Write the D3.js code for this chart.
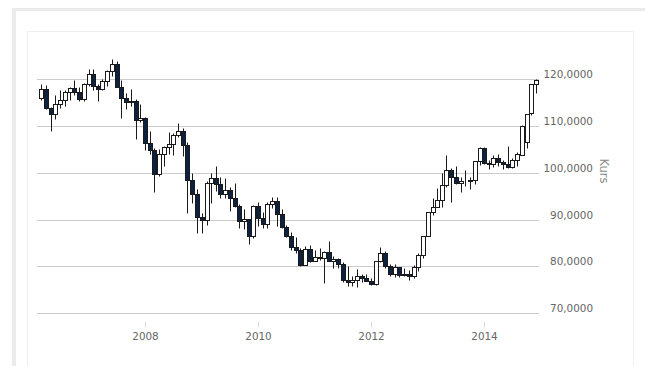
<!DOCTYPE html>
<html>
<head>
<meta charset="utf-8">
<script src="https://cdn.jsdelivr.net/npm/d3@7"></script>
<style>
  html, body { margin: 0; padding: 0; background: #fff; }
  svg { display: block; }
</style>
</head>
<body>
<svg id="chart" width="645" height="366"></svg>
<script>
// ---- Data: USD/JPY monthly candles (Mar 2006 – Dec 2014) ----
const months = [
  "2006-03","2006-04","2006-05","2006-06","2006-07","2006-08","2006-09","2006-10","2006-11","2006-12",
  "2007-01","2007-02","2007-03","2007-04","2007-05","2007-06","2007-07","2007-08","2007-09","2007-10","2007-11","2007-12",
  "2008-01","2008-02","2008-03","2008-04","2008-05","2008-06","2008-07","2008-08","2008-09","2008-10","2008-11","2008-12",
  "2009-01","2009-02","2009-03","2009-04","2009-05","2009-06","2009-07","2009-08","2009-09","2009-10","2009-11","2009-12",
  "2010-01","2010-02","2010-03","2010-04","2010-05","2010-06","2010-07","2010-08","2010-09","2010-10","2010-11","2010-12",
  "2011-01","2011-02","2011-03","2011-04","2011-05","2011-06","2011-07","2011-08","2011-09","2011-10","2011-11","2011-12",
  "2012-01","2012-02","2012-03","2012-04","2012-05","2012-06","2012-07","2012-08","2012-09","2012-10","2012-11","2012-12",
  "2013-01","2013-02","2013-03","2013-04","2013-05","2013-06","2013-07","2013-08","2013-09","2013-10","2013-11","2013-12",
  "2014-01","2014-02","2014-03","2014-04","2014-05","2014-06","2014-07","2014-08","2014-09","2014-10","2014-11","2014-12"
];
const open = [
  115.9,117.9,113.8,112.6,114.6,115.5,117.3,118.1,117.2,115.8,
  119.0,121.0,118.4,117.9,119.6,121.8,123.1,118.3,115.9,115.0,115.3,111.3,
  111.7,106.4,104.8,99.8,104.0,105.5,106.1,108.1,108.8,106.0,98.4,95.5,
  90.6,89.9,97.7,98.8,97.6,95.4,96.4,94.7,93.0,89.7,90.1,86.4,
  93.0,90.3,89.0,93.4,94.0,91.2,88.4,86.5,84.2,83.5,80.4,83.7,
  81.1,82.0,81.8,83.1,81.2,81.5,80.5,77.0,76.6,77.0,78.0,77.6,
  76.9,76.3,81.2,82.9,80.0,78.4,79.8,78.1,78.4,77.9,79.8,82.5,
  86.5,91.7,92.6,94.2,97.4,100.5,99.1,97.9,98.2,98.3,98.4,102.4,
  105.3,102.0,101.8,103.2,102.2,101.8,101.3,102.8,103.8,106.5,112.8,118.9
];
const high = [
  118.9,118.7,114.0,116.6,117.7,117.6,118.3,119.8,118.2,119.2,
  122.2,122.2,119.0,120.0,121.9,124.2,123.8,119.8,117.0,117.9,115.8,114.7,
  111.9,108.9,105.2,105.0,105.6,108.6,108.4,110.7,109.6,106.5,100.0,96.5,
  91.3,98.2,99.9,101.5,99.0,98.9,96.9,97.8,93.3,92.3,90.2,93.2,
  93.7,91.6,93.7,94.9,94.9,92.3,88.9,87.3,86.2,83.9,84.4,84.5,
  83.6,84.0,83.3,85.5,82.2,81.7,81.0,80.2,77.9,79.5,78.3,78.3,
  77.5,81.2,84.2,83.3,80.5,80.6,79.9,79.6,79.2,80.4,82.8,86.6,
  91.7,94.5,96.7,99.9,103.7,101.0,101.5,99.1,100.6,99.0,102.4,105.4,
  105.4,102.8,103.8,104.1,102.7,105.6,103.2,104.5,110.1,112.5,119.0,120.0
];
const low = [
  115.5,113.7,109.0,111.5,113.9,114.3,115.5,116.5,115.4,115.2,
  118.5,117.6,115.2,117.6,118.6,120.6,118.3,111.6,113.5,114.2,107.3,110.8,
  104.9,103.9,95.8,99.3,101.5,103.9,103.8,107.6,103.5,91.5,93.5,87.2,
  87.2,88.9,93.5,96.0,94.5,94.6,91.8,92.6,88.2,88.0,84.8,86.0,
  88.6,88.1,88.2,92.4,88.6,88.2,86.2,83.6,82.9,80.2,80.3,80.9,
  81.1,81.4,76.5,81.3,79.6,79.7,76.7,75.9,75.9,75.6,76.6,76.9,
  76.0,76.1,80.9,79.7,78.0,77.7,77.7,78.0,77.1,77.5,79.1,81.7,
  86.5,90.9,92.6,92.6,97.0,93.8,97.6,95.8,97.1,96.6,97.6,101.6,
  101.8,100.8,101.2,101.4,100.8,101.1,101.1,101.5,103.8,105.2,112.4,117.0
];
const close = [
  117.9,113.8,112.6,114.6,115.5,117.3,118.1,117.2,115.8,119.0,
  121.0,118.4,117.9,119.6,121.8,123.1,118.3,115.9,115.0,115.3,111.3,111.7,
  106.4,104.8,99.8,104.0,105.5,106.1,108.1,108.8,106.0,98.4,95.5,90.6,
  89.9,97.7,98.8,97.6,95.4,96.4,94.7,93.0,89.7,90.1,86.4,93.0,
  90.3,89.0,93.4,94.0,91.2,88.4,86.5,84.2,83.5,80.4,83.7,81.1,
  82.0,81.8,83.1,81.2,81.5,80.5,77.0,76.6,77.0,78.0,77.6,76.9,
  76.3,81.2,82.9,80.0,78.4,79.8,78.1,78.4,77.9,79.8,82.5,86.5,
  91.7,92.6,94.2,97.4,100.5,99.1,97.9,98.2,98.3,98.4,102.4,105.3,
  102.0,101.8,103.2,102.2,101.8,101.3,102.8,104.0,110.0,112.5,118.9,119.8
];
const yTicks = [70, 80, 90, 100, 110, 120];
const xTickYears = ["2008", "2010", "2012", "2014"];
const yAxisTitle = "Kurs";

// ---- Build ----
const parseMonth = d3.timeParse("%Y-%m");
const candles = months.map((m, i) => ({
  date: parseMonth(m), o: open[i], h: high[i], l: low[i], c: close[i]
}));

const svg = d3.select("#chart");
const W = 645, H = 366;
const plot = { left: 37, right: 539, top: 55, bottom: 322 };

// frame
svg.append("rect").attr("x", 0).attr("y", 0).attr("width", W).attr("height", H).attr("fill", "#fff");
svg.append("rect").attr("x", 12).attr("y", 8).attr("width", W - 12).attr("height", 3).attr("fill", "#ebebeb");
svg.append("rect").attr("x", 12).attr("y", 8).attr("width", 4).attr("height", H - 8).attr("fill", "#ebebeb");
svg.append("path")
  .attr("d", `M27.5,${H} V31.5 H633.5 V${H}`)
  .attr("fill", "none").attr("stroke", "#efefef").attr("stroke-width", 1);

const x = d3.scaleTime()
  .domain([new Date(2006, 1, 2), new Date(2014, 11, 20)])
  .range([plot.left, plot.right]);
const y = d3.scaleLinear().domain([70, 120]).range([313.3, 79]);

const fmtLocale = d3.formatLocale({ decimal: ",", thousands: ".", grouping: [3], currency: ["", "€"] });
const fmtY = fmtLocale.format(".4f");

// grid lines
const yAxis = d3.axisRight(y).tickValues(yTicks).tickSize(0).tickFormat(fmtY);
svg.append("g").selectAll("line").data(yTicks).join("line")
  .attr("x1", plot.left).attr("x2", plot.right)
  .attr("y1", d => Math.round(y(d)) + 0.5).attr("y2", d => Math.round(y(d)) + 0.5)
  .attr("stroke", "#cccccc").attr("stroke-width", 1);

// y axis labels (right side)
const gy = svg.append("g").attr("transform", `translate(593,0)`).call(yAxis);
gy.select(".domain").remove();
gy.selectAll("text")
  .attr("x", 0).attr("dy", null).attr("y", -2)
  .attr("text-anchor", "end")
  .attr("font-family", "'DejaVu Sans', Verdana, sans-serif")
  .attr("font-size", "10.4px").attr("fill", "#666");
gy.selectAll("text").each(function(d) {
  d3.select(this).attr("transform", `translate(0,${Math.round(y(d)) + 0.5 - y(d)})`);
});

// axis title
svg.append("text")
  .attr("transform", "translate(600,171) rotate(90)")
  .attr("text-anchor", "middle")
  .attr("font-family", "'DejaVu Sans', Verdana, sans-serif")
  .attr("font-size", "11.5px").attr("fill", "#888")
  .text(yAxisTitle);

// x axis
const xTickDates = xTickYears.map(s => d3.timeParse("%Y")(s));
const xAxis = d3.axisBottom(x).tickValues(xTickDates).tickSize(5).tickPadding(6).tickFormat(d3.timeFormat("%Y"));
const gx = svg.append("g").attr("transform", `translate(0,${plot.bottom})`).call(xAxis);
gx.select(".domain").remove();
gx.selectAll(".tick line").attr("stroke", "#ccd6eb");
gx.selectAll(".tick").attr("transform", d => `translate(${Math.round(x(d)) + 0.5},0)`);
gx.selectAll("text")
  .attr("font-family", "'DejaVu Sans', Verdana, sans-serif")
  .attr("font-size", "10.4px").attr("fill", "#666");

// candles
const clip = svg.append("clipPath").attr("id", "plotclip")
  .append("rect").attr("x", plot.left).attr("y", 0).attr("width", plot.right - plot.left + 1).attr("height", H);
const gc = svg.append("g").attr("clip-path", "url(#plotclip)");
const cand = gc.selectAll("g.c").data(candles).join("g").attr("class", "c");
const L = d => Math.round(x(d.date)) - 2;
cand.append("line")
  .attr("x1", d => L(d) + 2.5).attr("x2", d => L(d) + 2.5)
  .attr("y1", d => Math.round(y(d.h)) + 0.5).attr("y2", d => Math.round(y(d.l)) + 0.5)
  .attr("stroke", "#1a1a1a").attr("stroke-width", 1);
cand.append("rect")
  .attr("x", d => L(d) + 0.5).attr("width", 4)
  .attr("y", d => Math.round(y(Math.max(d.o, d.c))) + 0.5)
  .attr("height", d => Math.max(0, Math.round(y(Math.min(d.o, d.c))) - Math.round(y(Math.max(d.o, d.c)))))
  .attr("fill", d => d.c >= d.o ? "#ffffff" : "#0d2141")
  .attr("stroke", "#1a1a1a").attr("stroke-width", 1);
</script>
</body>
</html>
